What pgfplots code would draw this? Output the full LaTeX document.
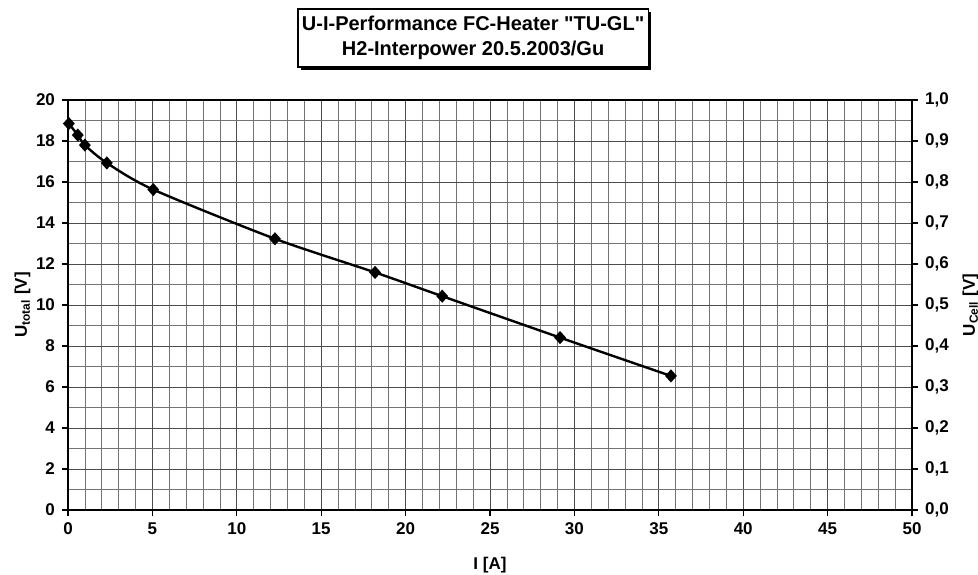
\documentclass[border=0pt]{standalone}
\usepackage{fontspec}
\setmainfont{Liberation Sans}[Ligatures=TeXOff]
\usepackage{pgfplots}
\pgfplotsset{compat=1.18}
\usetikzlibrary{shadows}

\pgfplotstableread{
I     U
0.05  18.85
0.58  18.29
1.00  17.80
2.30  16.93
5.05  15.63
12.26 13.23
18.19 11.59
22.17 10.43
29.15 8.41
35.72 6.54
}\uidata

\newcommand{\lblfont}{\fontsize{8.5}{10}\selectfont\bfseries}

\begin{document}
\begin{tikzpicture}
\begin{axis}[
    name=main,
    scale only axis,
    width=422pt, height=205pt,
    xmin=0, xmax=50, ymin=0, ymax=20,
    xtick distance=5, ytick distance=2,
    minor x tick num=4, minor y tick num=1,
    grid=both,
    major grid style={black!70, line width=0.4pt},
    minor grid style={black!55, line width=0.35pt},
    axis line style={black, line width=0.7pt},
    tick style={black, line width=0.6pt},
    major tick length=3pt, minor tick length=0pt,
    tick align=outside,
    xtick pos=bottom, ytick pos=left,
    /pgf/number format/assume math mode=true,
    ticklabel style={font=\lblfont},
    label style={font=\lblfont},
    xlabel={I [A]},
    ylabel={U\textsubscript{total} [V]},
    xlabel style={yshift=-4pt},
    ylabel style={yshift=-4pt},
    clip=false,
]
\addplot[black, line width=1.2pt, smooth, tension=0.45,
    mark=diamond*, mark size=2.4pt, mark options={fill=black, xscale=1.2}]
    table[x=I, y=U] {\uidata};
\node[draw=black, line width=0.6pt, fill=white, align=center,
    minimum width=170pt, minimum height=29pt, inner sep=2pt,
    font=\fontsize{10}{12.5}\selectfont\bfseries,
    drop shadow={shadow xshift=1.5pt, shadow yshift=-1.5pt, fill=black, opacity=1}]
    at ([yshift=31pt]rel axis cs:0.48,1)
    {U-I-Performance FC-Heater "TU-GL"\\H2-Interpower 20.5.2003/Gu};
\coordinate (bl) at (rel axis cs:0,0);
\coordinate (tr) at (rel axis cs:1,1);
\end{axis}
\begin{axis}[
    scale only axis,
    width=422pt, height=205pt,
    xmin=0, xmax=50, ymin=0, ymax=1,
    axis x line=none,
    axis y line*=right,
    ytick distance=0.1,
    axis line style={black, line width=0.7pt},
    tick style={black, line width=0.6pt},
    major tick length=3pt,
    tick align=outside,
    /pgf/number format/assume math mode=true,
    yticklabel style={font=\lblfont, /pgf/number format/.cd, use comma, fixed, fixed zerofill, precision=1},
    ylabel style={font=\lblfont},
    ylabel={U\textsubscript{Cell} [V]},
]
\end{axis}
\pgfresetboundingbox
\path[use as bounding box] ([xshift=-34pt, yshift=-32pt]bl) rectangle ([xshift=33pt, yshift=50pt]tr);
\end{tikzpicture}
\end{document}
